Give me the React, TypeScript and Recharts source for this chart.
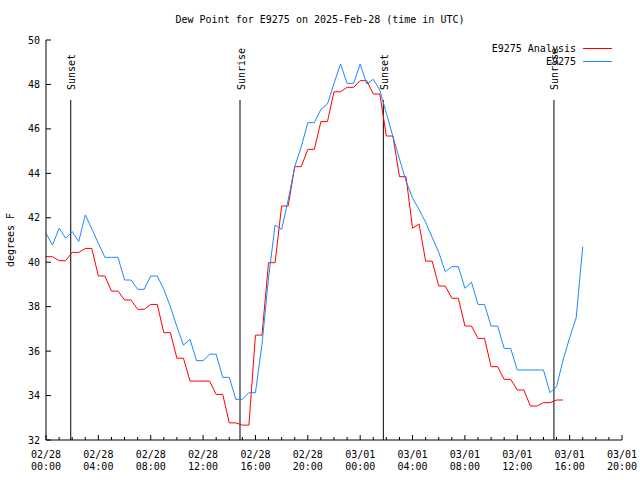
import { LineChart, Line, XAxis, YAxis, ReferenceLine, Legend } from "recharts"

const FONT = "'DejaVu Sans Mono', monospace"

// hours since 2025-02-28 00:00 UTC, half-hourly
const hours = [
  0, 0.5, 1, 1.5, 2, 2.5, 3, 3.5, 4, 4.5, 5, 5.5, 6, 6.5, 7, 7.5, 8, 8.5, 9, 9.5,
  10, 10.5, 11, 11.5, 12, 12.5, 13, 13.5, 14, 14.5, 15, 15.5, 16, 16.5, 17, 17.5, 18, 18.5, 19, 19.5,
  20, 20.5, 21, 21.5, 22, 22.5, 23, 23.5, 24, 24.5, 25, 25.5, 26, 26.5, 27, 27.5, 28, 28.5, 29, 29.5,
  30, 30.5, 31, 31.5, 32, 32.5, 33, 33.5, 34, 34.5, 35, 35.5, 36, 36.5, 37, 37.5, 38, 38.5, 39, 39.5,
  40, 40.5, 41
]

// E9275 Analysis (red)
const analysisF = [
  40.25, 40.25, 40.07, 40.07, 40.44, 40.44, 40.62, 40.62, 39.38, 39.38,
  38.70, 38.70, 38.30, 38.30, 37.88, 37.88, 38.10, 38.10, 36.83, 36.83,
  35.68, 35.68, 34.65, 34.65, 34.65, 34.65, 34.05, 34.05, 32.77, 32.77,
  32.67, 32.67, 36.72, 36.72, 39.98, 39.98, 42.53, 42.53, 44.30, 44.30,
  45.08, 45.08, 46.33, 46.33, 47.67, 47.67, 47.87, 47.87, 48.17, 48.17,
  47.57, 47.57, 45.68, 45.68, 43.85, 43.85, 41.53, 41.72, 40.05, 40.05,
  38.93, 38.93, 38.38, 38.38, 37.13, 37.13, 36.57, 36.57, 35.30, 35.30,
  34.73, 34.73, 34.25, 34.25, 33.53, 33.53, 33.68, 33.68, 33.80, 33.80
]

// E9275 observations (blue)
const observedF = [
  41.30, 40.77, 41.53, 41.08, 41.38, 40.93, 42.13, 41.50, 40.85, 40.22,
  40.22, 40.22, 39.20, 39.20, 38.78, 38.78, 39.38, 39.38, 38.78, 38.00,
  37.10, 36.27, 36.53, 35.57, 35.57, 35.86, 35.86, 34.82, 34.82, 33.83,
  33.83, 34.13, 34.13, 36.30, 39.30, 41.67, 41.48, 42.80, 44.30, 45.20,
  46.28, 46.28, 46.88, 47.12, 48.05, 48.92, 48.05, 48.05, 48.92, 48.02,
  48.23, 47.75, 46.70, 45.66, 44.65, 43.65, 42.89, 42.37, 41.80, 41.12,
  40.45, 39.57, 39.80, 39.80, 38.83, 39.10, 38.10, 38.10, 37.13, 37.13,
  36.12, 36.12, 35.15, 35.15, 35.15, 35.15, 35.15, 34.13, 34.40, 35.60,
  36.60, 37.50, 40.70
]

const hourTicks = [
  0, 1, 2, 3, 4, 5, 6, 7, 8, 9, 10, 11, 12, 13, 14, 15, 16, 17, 18, 19, 20, 21, 22,
  23, 24, 25, 26, 27, 28, 29, 30, 31, 32, 33, 34, 35, 36, 37, 38, 39, 40, 41, 42, 43, 44
]
const majorDates = ["02/28", "02/28", "02/28", "02/28", "02/28", "02/28", "03/01", "03/01", "03/01", "03/01", "03/01", "03/01"]
const majorTimes = ["00:00", "04:00", "08:00", "12:00", "16:00", "20:00", "00:00", "04:00", "08:00", "12:00", "16:00", "20:00"]
const yTicks = [32, 34, 36, 38, 40, 42, 44, 46, 48, 50]

const sunHours = [1.89, 14.82, 25.77, 38.8]
const sunLabels = ["Sunset", "Sunrise", "Sunset", "Sunrise"]
const sunLineTop = 47.3

const data = hours.map((h, i) => ({
  h,
  analysis: i < analysisF.length ? analysisF[i] : null,
  observed: observedF[i]
}))

function BottomTick({ x, y, payload }: any) {
  const h = payload.value
  const major = h % 4 === 0
  const i = h / 4
  return (
    <g>
      <line x1={x} y1={y} x2={x} y2={y - (major ? 5 : 3)} stroke="#000" />
      {major && (
        <text x={x} y={y} textAnchor="middle" fontSize={10} fontFamily={FONT} fill="#000">
          <tspan x={x} dy={17.5}>{majorDates[i]}</tspan>
          <tspan x={x} dy={12}>{majorTimes[i]}</tspan>
        </text>
      )}
    </g>
  )
}

function TopTick({ x, y, payload }: any) {
  const major = payload.value % 4 === 0
  return <line x1={x} y1={y} x2={x} y2={y + (major ? 5 : 3)} stroke="#000" />
}

function LeftTick({ x, y, payload }: any) {
  return (
    <g>
      <line x1={x} y1={y} x2={x + 5} y2={y} stroke="#000" />
      <text x={x - 6} y={y} dy="0.35em" textAnchor="end" fontSize={10} fontFamily={FONT} fill="#000">
        {payload.value}
      </text>
    </g>
  )
}

function RightTick({ x, y }: any) {
  return <line x1={x} y1={y} x2={x - 5} y2={y} stroke="#000" />
}

function sunLabel(text: string) {
  return (props: any) => {
    const vb = props.viewBox
    const tx = vb.x + 1
    const ty = vb.y - 10
    return (
      <text
        x={tx}
        y={ty}
        transform={`rotate(-90 ${tx} ${ty})`}
        textAnchor="start"
        dominantBaseline="central"
        fontSize={10}
        fontFamily={FONT}
        fill="#000"
      >
        {text}
      </text>
    )
  }
}

function yLabel(props: any) {
  const vb = props.viewBox
  const tx = 10
  const ty = vb.y + vb.height / 2
  return (
    <text
      x={tx}
      y={ty}
      transform={`rotate(-90 ${tx} ${ty})`}
      textAnchor="middle"
      dominantBaseline="central"
      fontSize={10}
      fontFamily={FONT}
      fill="#000"
    >
      degrees F
    </text>
  )
}

const legendItems = [
  { name: "E9275 Analysis", color: "#ff0000" },
  { name: "E9275", color: "#1e88ff" }
]

function renderLegend() {
  return (
    <div style={{ fontFamily: FONT, fontSize: 10, color: "#000" }}>
      {legendItems.map((it) => (
        <div
          key={it.name}
          style={{ display: "flex", justifyContent: "flex-end", alignItems: "center", height: 13 }}
        >
          <span style={{ lineHeight: "13px", whiteSpace: "pre" }}>{it.name}</span>
          <span style={{ width: 29, height: 0, borderTop: `1px solid ${it.color}`, marginLeft: 7, marginRight: 4 }} />
        </div>
      ))}
    </div>
  )
}

export default function App() {
  return (
    <div style={{ position: "fixed", left: 0, top: 0, width: 640, height: 480, background: "#fff" }}>
      <div
        style={{
          position: "absolute",
          top: 13,
          left: 0,
          width: 640,
          textAlign: "center",
          fontFamily: FONT,
          fontSize: 10,
          lineHeight: "14px",
          color: "#000"
        }}
      >
        Dew Point for E9275 on 2025-Feb-28 (time in UTC)
      </div>

      <LineChart width={640} height={480} data={data} margin={{ top: 40, right: 18, bottom: 0, left: 0 }}>
        <XAxis
          xAxisId="main"
          dataKey="h"
          type="number"
          domain={[0, 44]}
          ticks={hourTicks}
          interval={0}
          height={40}
          tickSize={0}
          tickMargin={0}
          tickLine={false}
          axisLine={{ stroke: "#000" }}
          tick={<BottomTick />}
        />
        <XAxis
          xAxisId="top"
          orientation="top"
          dataKey="h"
          type="number"
          domain={[0, 44]}
          ticks={hourTicks}
          interval={0}
          height={0}
          tickSize={0}
          tickMargin={0}
          tickLine={false}
          axisLine={{ stroke: "#000" }}
          tick={<TopTick />}
        />
        <YAxis
          yAxisId="left"
          type="number"
          domain={[32, 50]}
          ticks={yTicks}
          interval={0}
          width={46}
          tickSize={0}
          tickMargin={0}
          tickLine={false}
          axisLine={{ stroke: "#000" }}
          tick={<LeftTick />}
          label={yLabel}
        />
        <YAxis
          yAxisId="right"
          orientation="right"
          type="number"
          domain={[32, 50]}
          ticks={yTicks}
          interval={0}
          width={0}
          tickSize={0}
          tickMargin={0}
          tickLine={false}
          axisLine={{ stroke: "#000" }}
          tick={<RightTick />}
        />

        {sunHours.map((h, i) => (
          <ReferenceLine
            key={i}
            xAxisId="main"
            yAxisId="left"
            segment={[{ x: h, y: 32 }, { x: h, y: sunLineTop }]}
            stroke="#000"
            strokeWidth={1}
            label={sunLabel(sunLabels[i])}
          />
        ))}

        <Line
          xAxisId="main"
          yAxisId="left"
          dataKey="analysis"
          name="E9275 Analysis"
          stroke="#ff0000"
          strokeWidth={1}
          dot={false}
          type="linear"
          isAnimationActive={false}
        />
        <Line
          xAxisId="main"
          yAxisId="left"
          dataKey="observed"
          name="E9275"
          stroke="#1e88ff"
          strokeWidth={1}
          dot={false}
          type="linear"
          isAnimationActive={false}
        />

        <Legend
          layout="vertical"
          align="center"
          verticalAlign="middle"
          wrapperStyle={{ top: 42, left: 420, width: 196 }}
          content={renderLegend}
        />
      </LineChart>
    </div>
  )
}
